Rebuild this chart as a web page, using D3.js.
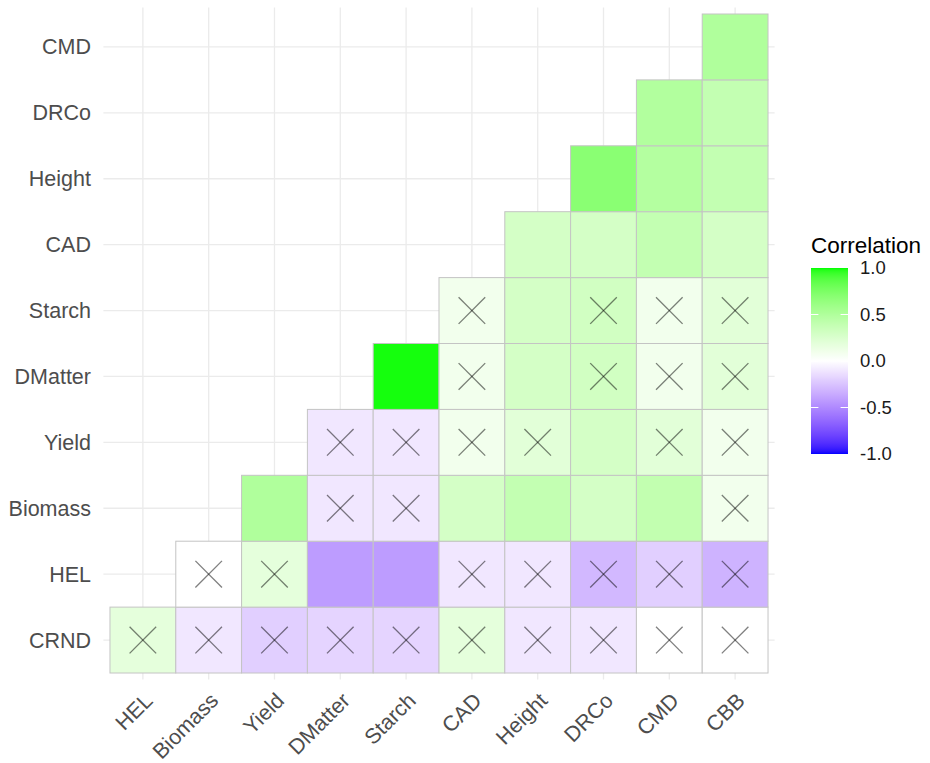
<!DOCTYPE html>
<html>
<head>
<meta charset="utf-8">
<script src="https://cdn.jsdelivr.net/npm/d3@7"></script>
<style>
  html, body { margin: 0; padding: 0; background: #fff; }
  svg text { font-family: "Liberation Sans", Arial, sans-serif; }
</style>
</head>
<body>
<svg id="chart" width="930" height="763"></svg>
<script>
// Variables on each axis
const xVars = ["HEL", "Biomass", "Yield", "DMatter", "Starch", "CAD", "Height", "DRCo", "CMD", "CBB"];
const yVars = ["CRND", "HEL", "Biomass", "Yield", "DMatter", "Starch", "CAD", "Height", "DRCo", "CMD"];

// Correlation of each row variable with the x variables that follow it
const rCRND    = [0.18, -0.10, -0.20, -0.18, -0.18, 0.18, -0.10, -0.10, 0.00, 0.00];
const rHEL     = [0.00, 0.18, -0.42, -0.42, -0.10, -0.10, -0.30, -0.20, -0.32];
const rBiomass = [0.50, -0.10, -0.10, 0.29, 0.39, 0.29, 0.40, 0.09];
const rYield   = [-0.10, -0.10, 0.09, 0.20, 0.29, 0.20, 0.09];
const rDMatter = [0.99, 0.09, 0.29, 0.31, 0.09, 0.20];
const rStarch  = [0.09, 0.29, 0.31, 0.09, 0.20];
const rCAD     = [0.29, 0.29, 0.39, 0.29];
const rHeight  = [0.69, 0.48, 0.39];
const rDRCo    = [0.49, 0.39];
const rCMD     = [0.50];

// 1 = not significant (crossed out)
const nsCRND    = [1, 1, 1, 1, 1, 1, 1, 1, 1, 1];
const nsHEL     = [1, 1, 0, 0, 1, 1, 1, 1, 1];
const nsBiomass = [0, 1, 1, 0, 0, 0, 0, 1];
const nsYield   = [1, 1, 1, 1, 0, 1, 1];
const nsDMatter = [0, 1, 0, 1, 1, 1];
const nsStarch  = [1, 0, 1, 1, 1];
const nsCAD     = [0, 0, 0, 0];
const nsHeight  = [0, 0, 0];
const nsDRCo    = [0, 0];
const nsCMD     = [0];

const legendTicks = [1.0, 0.5, 0.0, -0.5, -1.0];

const rowValues = [rCRND, rHEL, rBiomass, rYield, rDMatter, rStarch, rCAD, rHeight, rDRCo, rCMD];
const rowNS = [nsCRND, nsHEL, nsBiomass, nsYield, nsDMatter, nsStarch, nsCAD, nsHeight, nsDRCo, nsCMD];

// Long-format cells: row i starts at x column i
const cells = [];
yVars.forEach((yv, i) => {
  rowValues[i].forEach((v, k) => {
    cells.push({ y: yv, x: xVars[i + k], value: v, ns: rowNS[i][k] });
  });
});

const svg = d3.select("#chart");

const panel = { left: 103.4, right: 774.6, top: 7.4, bottom: 679.6 };

const x = d3.scaleBand().domain(xVars).range([panel.left, panel.right]).paddingInner(0).paddingOuter(0.1);
const y = d3.scaleBand().domain(yVars.slice().reverse()).range([panel.top, panel.bottom]).paddingInner(0).paddingOuter(0.1);

const color = d3.scaleLinear()
  .domain([-1, 0, 1])
  .range(["#0000FF", "#FFFFFF", "#00FF00"])
  .interpolate(d3.interpolateLab);

// Grid lines
const grid = svg.append("g");
grid.selectAll("line.vx").data(xVars).join("line")
  .attr("x1", d => x(d) + x.bandwidth() / 2).attr("x2", d => x(d) + x.bandwidth() / 2)
  .attr("y1", panel.top).attr("y2", panel.bottom)
  .attr("stroke", "#EBEBEB").attr("stroke-width", 1.3);
grid.selectAll("line.hy").data(yVars).join("line")
  .attr("y1", d => y(d) + y.bandwidth() / 2).attr("y2", d => y(d) + y.bandwidth() / 2)
  .attr("x1", panel.left).attr("x2", panel.right)
  .attr("stroke", "#EBEBEB").attr("stroke-width", 1.3);

// Tiles
svg.append("g").selectAll("rect").data(cells).join("rect")
  .attr("x", d => x(d.x))
  .attr("y", d => y(d.y))
  .attr("width", x.bandwidth())
  .attr("height", y.bandwidth())
  .attr("fill", d => color(d.value))
  .attr("stroke", "#C4C4C4")
  .attr("stroke-width", 1);

// Crosses over non-significant cells
const s = 13.3;
const crosses = svg.append("g").selectAll("g").data(cells.filter(d => d.ns === 1)).join("g")
  .attr("transform", d => `translate(${x(d.x) + x.bandwidth() / 2},${y(d.y) + y.bandwidth() / 2})`);
crosses.append("line").attr("x1", -s).attr("y1", -s).attr("x2", s).attr("y2", s);
crosses.append("line").attr("x1", -s).attr("y1", s).attr("x2", s).attr("y2", -s);
crosses.selectAll("line").attr("stroke", "#000").attr("stroke-opacity", 0.5).attr("stroke-width", 1.3);

// Y axis labels
svg.append("g").selectAll("text").data(yVars).join("text")
  .attr("x", 91)
  .attr("y", d => y(d) + y.bandwidth() / 2)
  .attr("dy", "0.35em")
  .attr("text-anchor", "end")
  .attr("font-size", 21.5)
  .attr("fill", "#4D4D4D")
  .text(d => d);

// X axis labels, rotated
svg.append("g").selectAll("text").data(xVars).join("text")
  .attr("transform", d => `translate(${x(d) + x.bandwidth() / 2 + 11},702) rotate(-45)`)
  .attr("text-anchor", "end")
  .attr("font-size", 21.5)
  .attr("fill", "#4D4D4D")
  .text(d => d);

// Legend
const lg = { x: 811, y: 268, w: 37, h: 186 };
const ly = d3.scaleLinear().domain([1, -1]).range([lg.y, lg.y + lg.h]);

const defs = svg.append("defs");
const grad = defs.append("linearGradient").attr("id", "corrGrad")
  .attr("x1", 0).attr("y1", 0).attr("x2", 0).attr("y2", 1);
d3.range(0, 101).forEach(i => {
  const v = 1 - i / 50;
  grad.append("stop").attr("offset", `${i}%`).attr("stop-color", color(v));
});

svg.append("text")
  .attr("x", 811).attr("y", 253)
  .attr("font-size", 22.5)
  .attr("fill", "#000")
  .text("Correlation");

svg.append("rect")
  .attr("x", lg.x).attr("y", lg.y).attr("width", lg.w).attr("height", lg.h)
  .attr("fill", "url(#corrGrad)");

const tickLen = lg.w / 5;
const tg = svg.append("g");
tg.selectAll("line.l").data(legendTicks.filter(t => Math.abs(t) < 1)).join("line")
  .attr("x1", lg.x).attr("x2", lg.x + tickLen)
  .attr("y1", d => ly(d)).attr("y2", d => ly(d))
  .attr("stroke", "#fff").attr("stroke-width", 1);
tg.selectAll("line.r").data(legendTicks.filter(t => Math.abs(t) < 1)).join("line")
  .attr("x1", lg.x + lg.w - tickLen).attr("x2", lg.x + lg.w)
  .attr("y1", d => ly(d)).attr("y2", d => ly(d))
  .attr("stroke", "#fff").attr("stroke-width", 1);

svg.append("g").selectAll("text").data(legendTicks).join("text")
  .attr("x", 860)
  .attr("y", d => ly(d))
  .attr("dy", "0.35em")
  .attr("font-size", 18.5)
  .attr("fill", "#1A1A1A")
  .text(d => d3.format(".1f")(d).replace("−", "-"));
</script>
</body>
</html>
